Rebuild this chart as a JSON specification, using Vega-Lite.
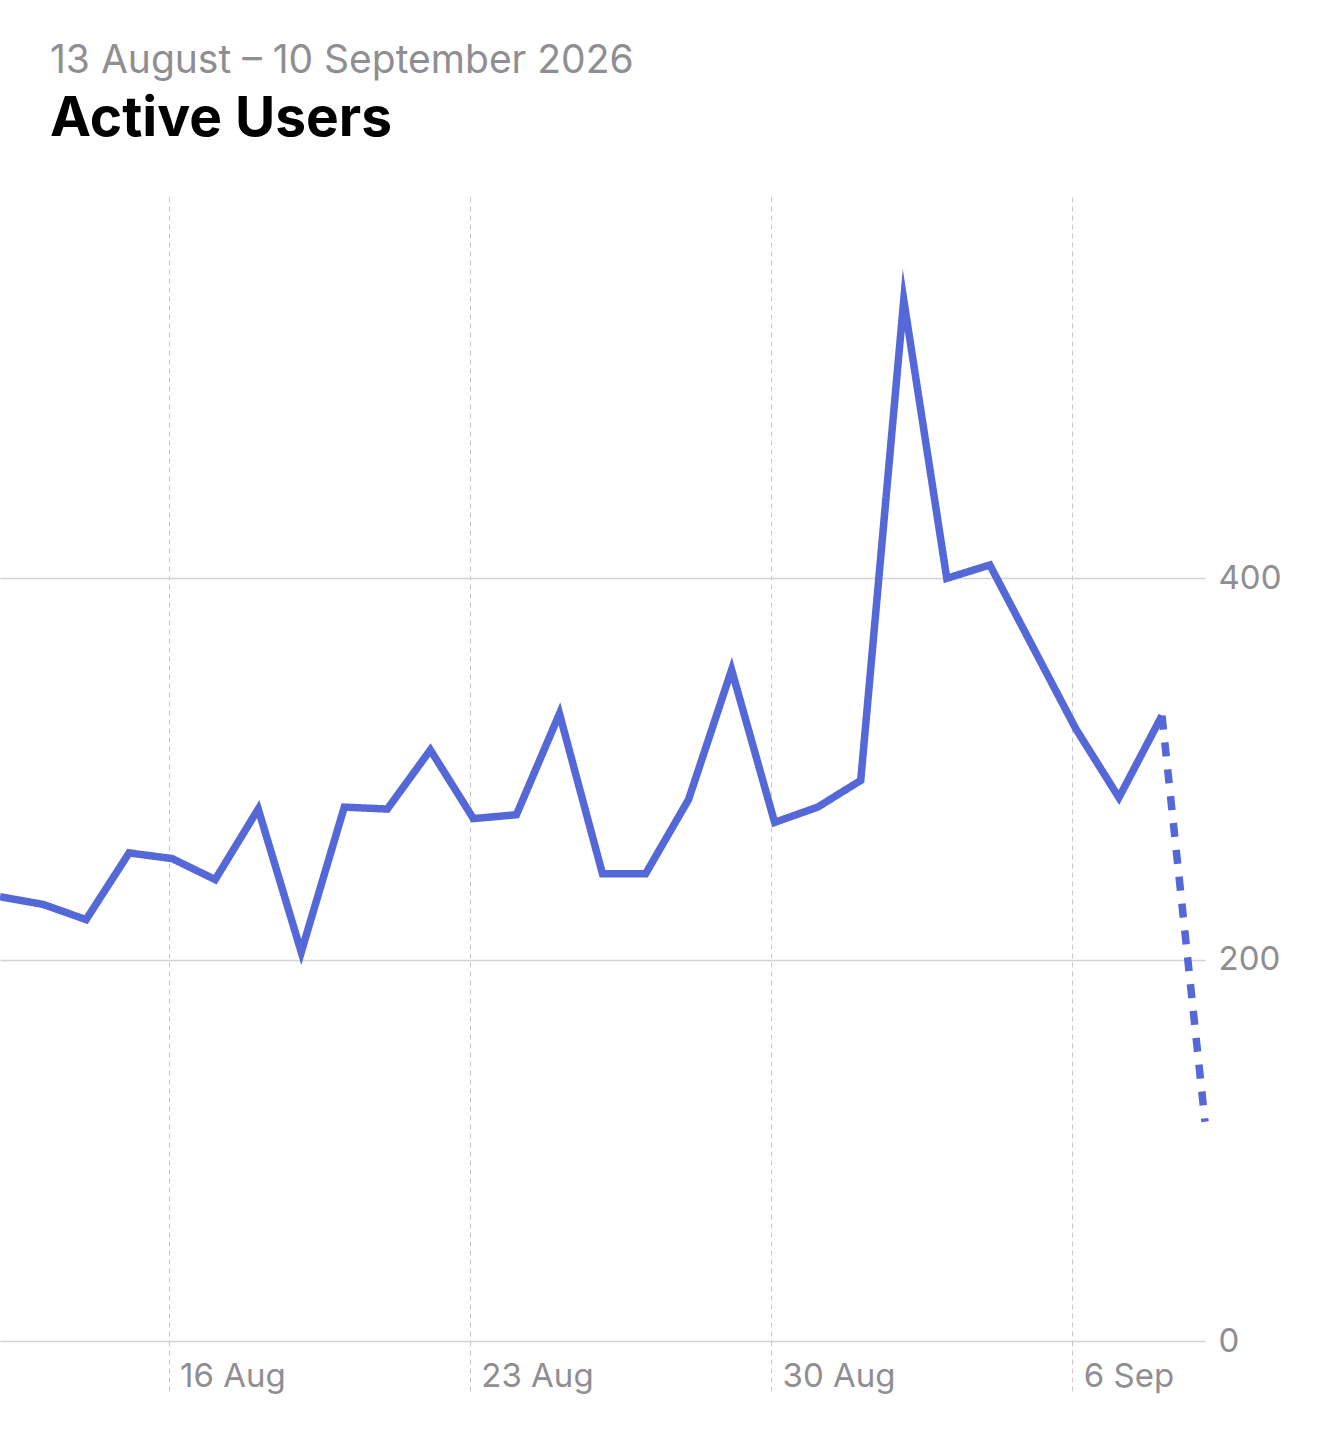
{
  "$schema": "https://vega.github.io/schema/vega-lite/v6.json",
  "width": 1205,
  "height": 1144,
  "autosize": {"type": "none"},
  "padding": {"top": 197, "left": 0, "right": 115, "bottom": 95},
  "background": "white",
  "title": {
    "text": "13 August – 10 September 2026",
    "subtitle": "Active Users",
    "anchor": "start",
    "frame": "group",
    "dx": 50,
    "offset": 50,
    "font": "Inter",
    "fontSize": 39,
    "fontWeight": 400,
    "color": "#8e8e93",
    "subtitleFont": "Inter",
    "subtitleFontSize": 55,
    "subtitleFontWeight": 700,
    "subtitleColor": "#000000",
    "subtitlePadding": 12
  },
  "config": {"view": {"stroke": null}, "font": "Inter"},
  "data": {
    "values": [
      {"date": "2026-08-12T02:00", "users": 233, "series": "complete"},
      {"date": "2026-08-13T02:00", "users": 229, "series": "complete"},
      {"date": "2026-08-14T02:00", "users": 221, "series": "complete"},
      {"date": "2026-08-15T02:00", "users": 256, "series": "complete"},
      {"date": "2026-08-16T02:00", "users": 253, "series": "complete"},
      {"date": "2026-08-17T02:00", "users": 242, "series": "complete"},
      {"date": "2026-08-18T02:00", "users": 279, "series": "complete"},
      {"date": "2026-08-19T02:00", "users": 204, "series": "complete"},
      {"date": "2026-08-20T02:00", "users": 280, "series": "complete"},
      {"date": "2026-08-21T02:00", "users": 279, "series": "complete"},
      {"date": "2026-08-22T02:00", "users": 310, "series": "complete"},
      {"date": "2026-08-23T02:00", "users": 274, "series": "complete"},
      {"date": "2026-08-24T02:00", "users": 276, "series": "complete"},
      {"date": "2026-08-25T02:00", "users": 329, "series": "complete"},
      {"date": "2026-08-26T02:00", "users": 245, "series": "complete"},
      {"date": "2026-08-27T02:00", "users": 245, "series": "complete"},
      {"date": "2026-08-28T02:00", "users": 284, "series": "complete"},
      {"date": "2026-08-29T02:00", "users": 352, "series": "complete"},
      {"date": "2026-08-30T02:00", "users": 272, "series": "complete"},
      {"date": "2026-08-31T02:00", "users": 280, "series": "complete"},
      {"date": "2026-09-01T02:00", "users": 294, "series": "complete"},
      {"date": "2026-09-02T02:00", "users": 546, "series": "complete"},
      {"date": "2026-09-03T02:00", "users": 400, "series": "complete"},
      {"date": "2026-09-04T02:00", "users": 407, "series": "complete"},
      {"date": "2026-09-05T02:00", "users": 364, "series": "complete"},
      {"date": "2026-09-06T02:00", "users": 321, "series": "complete"},
      {"date": "2026-09-07T02:00", "users": 285, "series": "complete"},
      {"date": "2026-09-08T02:00", "users": 328, "series": "complete"},
      {"date": "2026-09-08T02:00", "users": 328, "series": "partial"},
      {"date": "2026-09-09T02:00", "users": 115, "series": "partial"}
    ]
  },
  "mark": {
    "type": "line",
    "color": "#5568D8",
    "strokeWidth": 7.5,
    "strokeJoin": "miter",
    "strokeCap": "butt",
    "strokeMiterLimit": 10
  },
  "encoding": {
    "x": {
      "field": "date",
      "type": "temporal",
      "scale": {
        "domain": [
          {"year": 2026, "month": 8, "date": 12, "hours": 2},
          {"year": 2026, "month": 9, "date": 9, "hours": 2}
        ]
      },
      "axis": {
        "title": null,
        "orient": "bottom",
        "values": [
          {"year": 2026, "month": 8, "date": 16},
          {"year": 2026, "month": 8, "date": 23},
          {"year": 2026, "month": 8, "date": 30},
          {"year": 2026, "month": 9, "date": 6}
        ],
        "format": "%-d %b",
        "domain": false,
        "grid": true,
        "gridColor": "#c7c7cc",
        "gridDash": [5, 4],
        "gridWidth": 1,
        "ticks": true,
        "tickSize": 54,
        "tickColor": "#c7c7cc",
        "tickDash": [5, 4],
        "tickWidth": 1,
        "labelAlign": "left",
        "labelBaseline": "alphabetic",
        "labelOffset": 11,
        "labelPadding": -9,
        "labelFont": "Inter",
        "labelFontSize": 33,
        "labelColor": "#8e8e93"
      }
    },
    "y": {
      "field": "users",
      "type": "quantitative",
      "scale": {"domain": [0, 600]},
      "axis": {
        "title": null,
        "orient": "right",
        "values": [0, 200, 400],
        "domain": false,
        "ticks": false,
        "grid": true,
        "gridColor": "#d1d1d6",
        "gridWidth": 1.5,
        "labelPadding": 13,
        "labelAlign": "left",
        "labelBaseline": "middle",
        "labelFont": "Inter",
        "labelFontSize": 33,
        "labelColor": "#8e8e93"
      }
    },
    "strokeDash": {
      "field": "series",
      "type": "nominal",
      "scale": {"domain": ["complete", "partial"], "range": [[1, 0], [14, 13]]},
      "legend": null
    }
  }
}
